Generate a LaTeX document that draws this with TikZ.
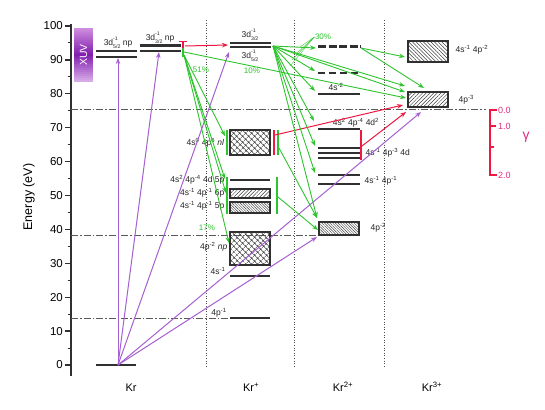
\documentclass[tikz,border=0pt]{standalone}
\usepackage{fontspec}
\setmainfont{Liberation Sans}
\usetikzlibrary{arrows.meta,patterns.meta}
\definecolor{lvgray}{HTML}{303030}
\definecolor{grn}{HTML}{2EC42E}
\definecolor{pur}{HTML}{A560D2}
\definecolor{rd}{HTML}{F01840}
\definecolor{pk}{HTML}{E03080}
\definecolor{xuvtop}{RGB}{205,140,222}
\definecolor{xuvmid}{RGB}{130,30,175}
\definecolor{xuvbot}{RGB}{215,170,232}
\newcommand{\sps}[1]{\textsuperscript{#1}}
\newcommand{\ssb}[2]{\rlap{\raisebox{5.2pt}{\fontsize{5.2}{5.5}\selectfont #1}}\raisebox{-3.2pt}{\fontsize{5.2}{5.5}\selectfont #2}}
\begin{document}
\begin{tikzpicture}[x=1pt,y=-1pt,
  lvl/.style={draw=lvgray,line width=1.6pt},
  bx/.style={draw=lvgray,line width=1.3pt},
  ga/.style={draw=grn,line width=0.9pt,-{Stealth[length=6pt,width=4.5pt]}},
  pa/.style={draw=pur,line width=1pt,-{Stealth[length=6pt,width=4.5pt]}},
  ra/.style={draw=rd,line width=1pt,-{Stealth[length=6pt,width=4.5pt]}},
  gbar/.style={draw=grn,line width=2pt},
  rbar/.style={draw=rd,line width=2pt},
  lab/.style={font=\fontsize{8.5}{9}\selectfont,inner sep=0.5pt,text=black!85},
  pct/.style={font=\fontsize{8}{9}\selectfont,inner sep=0.5pt,text=grn},
  sepline/.style={draw=black!70,dotted,line width=0.6pt},
  refline/.style={draw=black!65,line width=0.7pt,dash pattern=on 7pt off 2pt on 1.5pt off 2pt},
  hatchR/.style={pattern={Lines[angle=-45,distance=2.6pt,line width=0.5pt]},pattern color=black!75},
  hatchL/.style={pattern={Lines[angle=45,distance=2.6pt,line width=0.5pt]},pattern color=black!75},
  hatchD/.style={pattern={Lines[angle=-45,distance=1.9pt,line width=0.45pt]},pattern color=black!75},
  cross/.style={pattern={Hatch[angle=45,distance=4pt,line width=0.5pt]},pattern color=black!75},
]
\fill[white] (0,0) rectangle (545,409);
\useasboundingbox (0,0) rectangle (545,409);

% ---------- axis ----------
\draw[line width=1.3pt,lvgray] (71,24) -- (71,376);
\foreach \E in {0,10,...,100}{
  \draw[line width=1.3pt,lvgray] (65,{365-3.39*\E}) -- (71,{365-3.39*\E});
  \node[anchor=east,font=\fontsize{11.5}{12}\selectfont,inner sep=0pt] (t\E) at (63,{365-3.39*\E}) {\E};
}
\foreach \E in {5,15,...,95}{
  \draw[line width=1.1pt,lvgray] (67.5,{365-3.39*\E}) -- (71,{365-3.39*\E});
}
\node[rotate=90,font=\fontsize{12.5}{13}\selectfont] (ylab) at (29,197) {Energy (eV)};

% ---------- reference lines ----------
\draw[refline] (71,109) -- (486,109);
\draw[refline] (71,235) -- (318,235);
\draw[refline] (71,318) -- (229,318);
\foreach \xx in {206,294,384}{\draw[sepline] (\xx,20) -- (\xx,368);}

% ---------- column labels ----------
\node[font=\fontsize{11}{12}\selectfont] (cKr) at (131,388) {Kr};
\node[font=\fontsize{11}{12}\selectfont] (cKr1) at (251,387) {Kr\sps{+}};
\node[font=\fontsize{11}{12}\selectfont] (cKr2) at (343,387) {Kr\sps{2+}};
\node[font=\fontsize{11}{12}\selectfont] (cKr3) at (432,387) {Kr\sps{3+}};

% ---------- XUV (striped gradient) ----------
\foreach \i in {0,...,26}{
  \pgfmathsetmacro{\pc}{\i<=13 ? \i/13*100 : (26-\i)/13*100}
  \ifnum\i<14 \colorlet{xc}{xuvmid!\pc!xuvtop}\else\colorlet{xc}{xuvmid!\pc!xuvbot}\fi
  \fill[xc] (74,{28+2*\i}) rectangle (93,{30.3+2*\i});
}
\node[rotate=90,text=white,font=\fontsize{10.5}{11}\selectfont] (xuv) at (83.5,55) {XUV};

% ---------- Kr neutral ----------
\draw[lvl] (96,365) -- (136,365);
\coordinate (gs) at (118,365);
\draw[lvgray,line width=2.6pt] (96,51) -- (137,51);
\draw[lvl] (96,57) -- (137,57);
\node[lab] (l5np) at (118,43) {3d\ssb{-1}{5/2} np};
\draw[lvgray,line width=3pt] (140,46) -- (181,46);
\draw[lvl] (140,51) -- (181,51);
\node[lab] (l3np) at (160,38) {3d\ssb{-1}{3/2} np};
\draw[rbar] (183,42) -- (183,49);
\draw[rbar,line width=1pt] (179,42) -- (187,42);
\draw[gbar] (183,48) -- (183,57);

% ---------- Kr+ ----------
\draw[lvl] (230,43) -- (271,43);
\draw[lvl] (230,47) -- (271,47);
\node[lab] (l3d32) at (250,35) {3d\ssb{-1}{3/2}};
\node[lab] (l3d52) at (250,56) {3d\ssb{-1}{5/2}};
\draw[bx,cross] (230,130) rectangle (270,155);
\node[lab,anchor=east] (lnl) at (225,143) {4s\sps{0} 4p\sps{6} \textit{nl}};
\draw[gbar] (226.5,130) -- (226.5,155);
\draw[rbar] (274,130) -- (274,155);
\draw[gbar] (278,130) -- (278,155);
\draw[lvgray,line width=2pt] (230,180) -- (270,180);
\draw[bx,hatchL] (230,189) rectangle (270,198);
\draw[bx,hatchD] (230,202) rectangle (270,213);
\node[lab,anchor=east] (l4d5p) at (225,180) {4s\sps{2} 4p\sps{-4} 4d 5p};
\node[lab,anchor=east] (l6p) at (225,193) {4s\sps{-1} 4p\sps{-1} 6p};
\node[lab,anchor=east] (l5p) at (225,206) {4s\sps{-1} 4p\sps{-1} 5p};
\draw[gbar] (226.5,177) -- (226.5,214);
\draw[gbar] (277,177) -- (277,214);
\draw[bx,cross] (230,232) rectangle (270,265);
\node[lab,anchor=east] (lnp) at (228,247) {4p\sps{-2} \textit{np}};
\node[pct] (p17) at (207,228) {17\%};
\draw[lvl] (230,276) -- (270,276);
\node[lab] (l4s) at (218,271) {4s\sps{-1}};
\draw[lvl] (230,318) -- (270,318);
\node[lab] (l4p) at (219,313) {4p\sps{-1}};

% ---------- Kr2+ ----------
\draw[lvgray,line width=3pt,dash pattern=on 8pt off 2.5pt] (318,47) -- (361,47);
\draw[lvl,dash pattern=on 7pt off 4pt] (318,73) -- (361,73);
\draw[lvl] (318,94) -- (360,94);
\node[lab] (l4s2) at (336,87) {4s\sps{-2}};
\draw[lvl] (318,129) -- (360,129);
\node[lab] (l4d2) at (356,123) {4s\sps{2} 4p\sps{-4} 4d\sps{2}};
\draw[lvl] (318,148) -- (360,148);
\draw[lvl] (318,153) -- (360,153);
\draw[lvl] (318,158) -- (360,158);
\draw[rbar] (361,130) -- (361,160);
\node[lab,anchor=west] (l4d) at (365,153) {4s\sps{-1} 4p\sps{-3} 4d};
\draw[lvl] (318,175) -- (360,175);
\draw[lvl] (318,184) -- (360,184);
\node[lab,anchor=west] (l4s4p) at (364,181) {4s\sps{-1} 4p\sps{-1}};
\draw[bx,hatchD] (319,222) rectangle (359,235);
\node[lab,anchor=west] (l4p2) at (370,228) {4p\sps{-2}};

% ---------- Kr3+ ----------
\draw[bx,hatchR] (408,41) rectangle (448,62);
\node[lab,anchor=west] (l3top) at (455,50) {4s\sps{-1} 4p\sps{-2}};
\draw[bx,hatchL] (408,92) rectangle (448,107);
\node[lab,anchor=west] (l4p3) at (458,100) {4p\sps{-3}};

% ---------- gamma scale ----------
\draw[draw=rd,line width=1.6pt] (497,110) -- (490,110) -- (490,175) -- (497,175);
\draw[draw=rd,line width=1.2pt] (490,126) -- (496,126);
\draw[draw=rd,line width=1.2pt] (490,147) -- (494,147);
\node[anchor=west,text=pk,font=\fontsize{9}{10}\selectfont,inner sep=1pt] (g0) at (497,110) {0.0};
\node[anchor=west,text=pk,font=\fontsize{9}{10}\selectfont,inner sep=1pt] (g1) at (497,126) {1.0};
\node[anchor=west,text=pk,font=\fontsize{9}{10}\selectfont,inner sep=1pt] (g2) at (497,175) {2.0};
\node[text=pk,font=\fontsize{14}{15}\selectfont] (gam) at (526,137) {γ};

% ---------- coordinates ----------
\coordinate (np5) at (118,58);
\coordinate (np3) at (159,52);
\coordinate (kp3d) at (229,52);
\coordinate (k2box) at (317,237);
\coordinate (k3low) at (421,112);
\coordinate (npR) at (185,46);
\coordinate (npG) at (184,52);
\coordinate (npG2) at (184,55);
\coordinate (kp3dL) at (228,45);
\coordinate (kp3dR) at (273,46);
\coordinate (nlL) at (225,136);
\coordinate (g4d5p) at (225,179);
\coordinate (g6p) at (226,193);
\coordinate (npbox) at (229,243);
\coordinate (d1) at (316,48);
\coordinate (d2) at (315,71);
\coordinate (d3) at (315,91);
\coordinate (d4) at (314,121);
\coordinate (d5) at (315,146);
\coordinate (d6) at (315,173);
\coordinate (d7) at (317,218);
\coordinate (d8) at (318,230);
\coordinate (k3a) at (405,86);
\coordinate (k3b) at (405,92);
\coordinate (k3c) at (406,98);
\coordinate (k3top) at (405,57);
\coordinate (k3topb) at (424,88);
\coordinate (dashR) at (361,48);
\coordinate (nlR) at (279,148);
\coordinate (pR) at (278,197);
\coordinate (nlRed) at (275,135);
\coordinate (k3r1) at (403,105);
\coordinate (k2red) at (362,146);
\coordinate (k3r2) at (406,112);

% ---------- purple arrows ----------
\draw[pa] (gs) -- (np5);
\draw[pa] (gs) -- (np3);
\draw[pa] (gs) -- (kp3d);
\draw[pa] (gs) -- (k2box);
\draw[pa] (gs) -- (k3low);

% ---------- red arrows ----------
\draw[ra] (npR) -- (kp3dL);
\draw[ra] (nlRed) -- (k3r1);
\draw[ra] (k2red) -- (k3r2);

% ---------- green arrows ----------
\draw[ga] (npG) -- (k3c);
\node[pct] (p10) at (252,71) {10\%};
\node[pct] (p51) at (201,70) {51\%};
\draw[ga] (npG2) -- (nlL);
\draw[ga] (npG2) -- (g4d5p);
\draw[ga] (npG2) -- (g6p);
\draw[ga] (npG2) -- (npbox);
\foreach \t in {d1,d2,d3,d4,d5,d6,d7,k3a,k3b}{\draw[ga] (kp3dR) -- (\t);}
\draw[ga] (dashR) -- (k3top);
\draw[ga] (dashR) -- (k3topb);
\draw[ga] (nlR) -- (d7);
\draw[ga] (pR) -- (d8);
\node[pct] (p30) at (323,37) {30\%};
\coordinate (f1) at (300,47);
\coordinate (f2) at (296,54);
\coordinate (f3) at (292,60);
\coordinate (f4) at (290,66);
\foreach \f in {f1,f2,f3,f4}{\draw[grn,line width=0.35pt] (p30.west) -- (\f);}
\end{tikzpicture}
\end{document}
